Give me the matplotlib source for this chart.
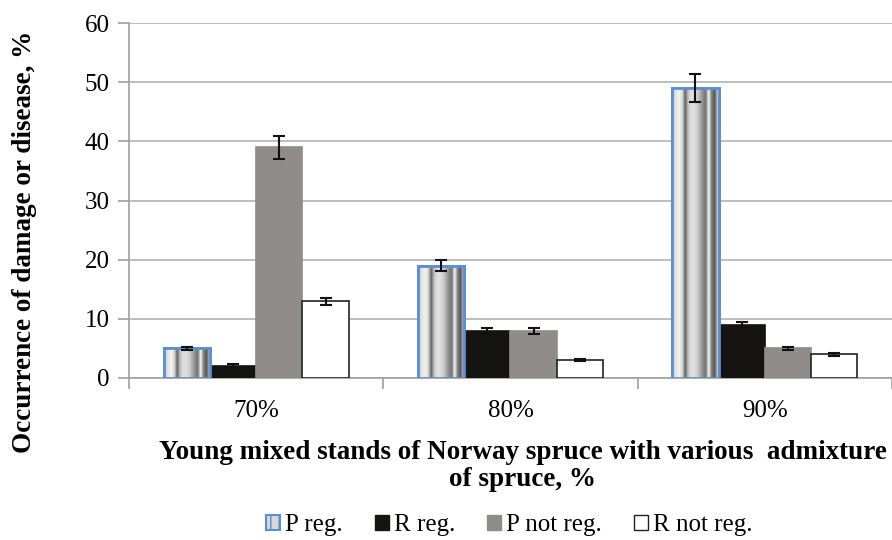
import numpy as np
import matplotlib.pyplot as plt
from matplotlib.patches import Patch

plt.rcParams['font.family'] = ['Liberation Serif', 'DejaVu Serif']

categories = ['70%', '80%', '90%']
series = ['P reg.', 'R reg.', 'P not reg.', 'R not reg.']
p_reg = [5, 19, 49]
r_reg = [2, 8, 9]
p_not_reg = [39, 8, 5]
r_not_reg = [13, 3, 4]
p_reg_err = [0.3, 0.9, 2.4]
r_reg_err = [0.3, 0.5, 0.4]
p_not_reg_err = [2.0, 0.5, 0.3]
r_not_reg_err = [0.6, 0.2, 0.3]

values = [p_reg, r_reg, p_not_reg, r_not_reg]
errors = [p_reg_err, r_reg_err, p_not_reg_err, r_not_reg_err]
faces = ['#d8d8d8', '#151412', '#8f8c8b', 'white']
edges = ['#5b8fd0', '#151412', '#8f8c8b', '#222222']

# cylinder-like stripe shading for the P reg. bars
stripes = np.array([[0.82, 0.9, 0.95, 0.85, 0.4, 0.75, 0.88, 0.87,
                     0.82, 0.7, 0.55, 0.45, 0.95, 0.5, 0.35, 0.75]])

fig = plt.figure(figsize=(8.92, 5.40), dpi=100)
ax = fig.add_axes([0.1446, 0.30, 0.8554, 0.657])

x = np.arange(len(categories))
width = 0.182
for i in range(4):
    pos = x + (i - 1.5) * width
    bars = ax.bar(pos, values[i], width, color=faces[i], edgecolor=edges[i],
                  linewidth=2 if i == 0 else 1.2, zorder=3)
    if i == 0:
        for b in bars:
            im = ax.imshow(stripes, cmap='gray', vmin=0, vmax=1, aspect='auto',
                           interpolation='bilinear', zorder=3.5,
                           extent=[b.get_x(), b.get_x() + b.get_width(), 0, b.get_height()])
            im.set_clip_path(b)
        ax.bar(pos, values[i], width, color='none', edgecolor=edges[i], linewidth=2, zorder=4)
    ax.errorbar(pos, values[i], yerr=errors[i], fmt='none', ecolor='#111111',
                elinewidth=1.5, capsize=4.5, capthick=1.5, zorder=5)

ax.set_ylim(0, 60)
ax.set_xlim(-0.5, 2.488)
ax.set_yticks(range(0, 61, 10))
ax.set_xticks(x)
ax.set_xticklabels(categories)
ax.set_xticks([-0.5, 0.5, 1.5, 2.5], minor=True)
ax.tick_params(axis='x', which='major', length=0, pad=16, labelsize=18)
ax.tick_params(axis='x', which='minor', length=8, color='#a0a0a0', width=1.2)
ax.tick_params(axis='y', length=8, color='#a0a0a0', width=1.2, labelsize=18, pad=6)
ax.yaxis.grid(True, color='#b3b3b3', linewidth=1.2, zorder=0)
ax.set_axisbelow(True)
for s in ['top', 'right']:
    ax.spines[s].set_visible(False)
for s in ['left', 'bottom']:
    ax.spines[s].set_color('#a0a0a0')
    ax.spines[s].set_linewidth(1.2)
ax.set_ylim(0, 60)

fig.text(0.586, 0.137, 'Young mixed stands of Norway spruce with various  admixture\nof spruce, %',
         ha='center', va='center', fontsize=19.5, fontweight='bold', linespacing=1.1)
fig.text(0.027, 0.552, 'Occurrence of damage or disease, %', rotation=90,
         ha='center', va='center', fontsize=19.5, fontweight='bold')

handles = [Patch(facecolor='#d8d8d8', edgecolor='#5b8fd0', hatch='||', linewidth=1.5),
           Patch(facecolor=faces[1], edgecolor=faces[1]),
           Patch(facecolor=faces[2], edgecolor=faces[2]),
           Patch(facecolor='white', edgecolor='#222222', linewidth=1)]
fig.legend(handles, series, loc='center', bbox_to_anchor=(0.571, 0.028), ncol=4,
           frameon=False, fontsize=18, handlelength=0.55, handleheight=0.55,
           handletextpad=0.2, columnspacing=1.3)

fig.savefig('out.png', dpi=100)
